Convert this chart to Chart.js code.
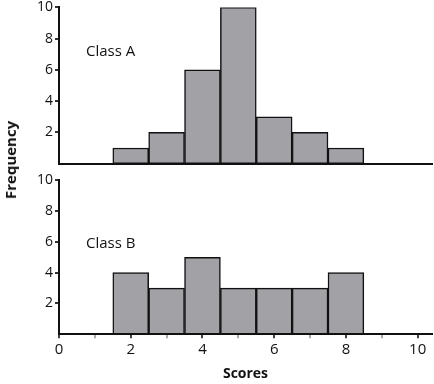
<!DOCTYPE html>
<html>
<head>
<meta charset="utf-8">
<script src="https://cdn.jsdelivr.net/npm/chart.js@4"></script>
<style>
  html, body { margin: 0; padding: 0; background: #fff; }
  #wrap { position: relative; width: 434px; height: 384px; overflow: hidden; font-family: "Open Sans", sans-serif; }
  .box { position: absolute; left: 0; width: 434px; }
  .lbl { position: absolute; font-size: 15px; color: #111; }
  #freq { position: absolute; left: 10px; top: 160px; transform: translate(-50%, -50%) rotate(-90deg); font-weight: bold; font-size: 15px; color: #111; white-space: nowrap; }
</style>
</head>
<body>
<div id="wrap">
  <div class="box" style="top:-3px;height:177px"><canvas id="chartA"></canvas></div>
  <div class="box" style="top:170px;height:214px"><canvas id="chartB"></canvas></div>
  <div class="lbl" style="left:86px;top:40px">Class A</div>
  <div class="lbl" style="left:86px;top:232px">Class B</div>
  <div id="freq">Frequency</div>
</div>
<script>
// bin centres and counts
const scores = [2, 3, 4, 5, 6, 7, 8];
const classA = [1, 2, 6, 10, 3, 2, 1];
const classB = [4, 3, 5, 3, 3, 3, 4];
const yTicks = [2, 4, 6, 8, 10];
const xTicks = [0, 1, 2, 3, 4, 5, 6, 7, 8, 9, 10];
const xLabels = [0, 2, 4, 6, 8, 10];

const barFill = '#a2a2a6';

function makeChart(id, counts, showX) {
    const ctx = document.getElementById(id);
    return new Chart(ctx, {
        type: 'bar',
        data: {
            datasets: [{
                data: scores.map((s, i) => ({ x: s, y: counts[i] })),
                backgroundColor: barFill,
                borderColor: '#111',
                borderWidth: 1.5,
                borderSkipped: false,
                barPercentage: 1,
                categoryPercentage: 1
            }]
        },
        options: {
            responsive: true,
            maintainAspectRatio: false,
            animation: false,
            layout: {
                padding: { left: 26, right: 2, top: showX ? 2 : 0, bottom: 2 }
            },
            plugins: {
                legend: { display: false },
                tooltip: { enabled: false }
            },
            scales: {
                x: {
                    type: 'linear',
                    offset: false,
                    min: 0,
                    max: 10.4,
                    afterBuildTicks: s => { s.ticks = xTicks.map(v => ({ value: v })); },
                    ticks: {
                        display: showX,
                        autoSkip: false,
                        maxRotation: 0,
                        color: '#111',
                        font: { family: 'Open Sans', size: 15 },
                        padding: 3,
                        callback: v => xLabels.includes(v) ? String(v) : ''
                    },
                    grid: {
                        display: showX,
                        offset: false,
                        drawOnChartArea: false,
                        drawTicks: true,
                        tickLength: 4,
                        lineWidth: 2,
                        color: c => (c.tick && c.tick.value % 2 === 0) ? '#444' : '#aaa'
                    },
                    border: { display: true, color: '#111', width: 2 },
                    title: {
                        display: showX,
                        text: 'Scores',
                        color: '#111',
                        font: { family: 'Open Sans', size: 14, weight: 'bold' },
                        padding: { top: 3, bottom: 0 }
                    }
                },
                y: {
                    min: 0,
                    max: 10,
                    afterBuildTicks: s => { s.ticks = yTicks.map(v => ({ value: v })); },
                    afterFit: s => { s.width = 33; },
                    ticks: {
                        color: '#111',
                        font: { family: 'Open Sans', size: 14 },
                        padding: 2
                    },
                    grid: {
                        drawOnChartArea: false,
                        drawTicks: true,
                        tickLength: 4,
                        lineWidth: 2,
                        color: '#333'
                    },
                    border: { display: true, color: '#111', width: 2 }
                }
            }
        }
    });
}

makeChart('chartA', classA, false);
makeChart('chartB', classB, true);
</script>
</body>
</html>
